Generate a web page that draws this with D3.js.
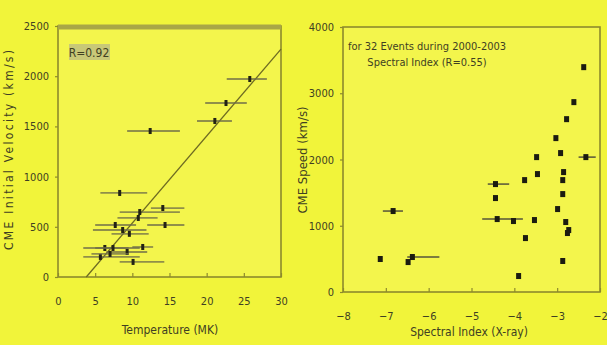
<!DOCTYPE html>
<html>
<head>
<meta charset="utf-8">
<script src="https://cdn.jsdelivr.net/npm/d3@7"></script>
<style>
  html, body { margin: 0; padding: 0; background: #f1f43a; }
  svg { display: block; }
  text { font-family: "Liberation Sans Narrow", "DejaVu Sans Condensed", "Liberation Sans", sans-serif; fill: #3f3f22; }
</style>
</head>
<body>
<div id="chart"></div>
<script>
// left panel: temperature vs initial velocity
const tempTicks = [0, 5, 10, 15, 20, 25, 30];
const velTicks = [0, 500, 1000, 1500, 2000, 2500];
// [temperature, velocity, temp low, temp high]
const tempEvents = [
  [25.8, 1972, 22.7, 28.1],
  [22.6, 1733, 19.8, 25.4],
  [21.1, 1554, 18.7, 23.4],
  [12.4, 1454, 9.3, 16.4],
  [8.3, 837, 5.7, 12.0],
  [11.0, 647, 8.3, 16.4],
  [14.1, 687, 12.5, 17.0],
  [10.8, 588, 8.0, 13.4],
  [7.7, 518, 5.0, 10.5],
  [14.4, 518, 12.0, 17.0],
  [8.7, 468, 4.7, 11.9],
  [9.6, 430, 7.2, 12.2],
  [6.3, 289, 3.4, 9.5],
  [7.4, 289, 5.0, 11.0],
  [9.3, 249, 6.5, 12.0],
  [11.4, 299, 10.0, 12.8],
  [5.7, 200, 3.4, 11.0],
  [7.0, 230, 4.5, 9.5],
  [10.1, 150, 8.3, 14.3]
];
const fitLine = [[3.8, 0], [30, 2270]];
const leftNote = "R=0.92";

// right panel: spectral index vs speed
const specTicks = [-8, -7, -6, -5, -4, -3, -2];
const speedTicks = [0, 1000, 2000, 3000, 4000];
// [spectral index, speed, index low, index high]
const specEvents = [
  [-2.38, 3394], [-2.61, 2866], [-2.78, 2609], [-3.03, 2323], [-2.92, 2097],
  [-3.48, 2036], [-2.33, 2036, -2.5, -2.1], [-3.46, 1780], [-3.76, 1689],
  [-2.85, 1810], [-2.87, 1689], [-4.44, 1629, -4.62, -4.12], [-4.44, 1418],
  [-2.87, 1478], [-2.99, 1252], [-6.83, 1222, -7.07, -6.6], [-4.4, 1101, -4.75, -3.8],
  [-4.02, 1071], [-3.53, 1086], [-2.8, 1056], [-2.73, 935], [-2.76, 890],
  [-3.74, 814], [-7.13, 498], [-6.38, 528, -6.5, -5.75], [-6.48, 452],
  [-2.87, 468], [-3.9, 241]
];
const rightNote = ["for 32 Events during 2000-2003", "Spectral Index (R=0.55)"];

const width = 607, height = 345;
const ink = "#3f3f22", frame = "#8d8a2c";
const svg = d3.select("#chart").append("svg").attr("width", width).attr("height", height);

function frameAxes(g, x, y, xTicks, yTicks, thickTop) {
  const [x0, x1] = x.range(), [y0, y1] = y.range();
  g.append("rect").attr("x", x0).attr("y", y1).attr("width", x1 - x0).attr("height", y0 - y1)
    .attr("fill", "#f3f54c").attr("stroke", frame).attr("stroke-width", 1.6);
  if (thickTop) {
    g.append("line").attr("x1", x0).attr("x2", x1).attr("y1", y1 + 1).attr("y2", y1 + 1)
      .attr("stroke", "#a9a646").attr("stroke-width", 5);
  }
  const ax = g.append("g").attr("transform", `translate(0,${y0})`)
    .call(d3.axisBottom(x).tickValues(xTicks).tickSize(-4).tickPadding(20).tickFormat(d3.format("d")));
  const ay = g.append("g").attr("transform", `translate(${x0},0)`)
    .call(d3.axisLeft(y).tickValues(yTicks).tickSize(3).tickPadding(6).tickFormat(d3.format("d")));
  [ax, ay].forEach((a) => {
    a.select(".domain").remove();
    a.selectAll(".tick line").attr("stroke", frame).attr("stroke-width", 1.2);
    a.selectAll(".tick text").attr("font-size", 11).style("fill", ink);
  });
}

// ---- left panel
const xT = d3.scaleLinear().domain([0, 30]).range([58, 281]);
const yV = d3.scaleLinear().domain([0, 2500]).range([277, 26]);
const left = svg.append("g");
frameAxes(left, xT, yV, tempTicks, velTicks, true);

left.append("path").datum(fitLine).attr("fill", "none").attr("stroke", "#6d6a22").attr("stroke-width", 1.3)
  .attr("d", d3.line().x((d) => xT(d[0])).y((d) => yV(d[1])));

const ev = left.selectAll("g.ev").data(tempEvents).join("g").attr("class", "ev");
ev.append("line").attr("x1", (d) => xT(d[2])).attr("x2", (d) => xT(d[3]))
  .attr("y1", (d) => yV(d[1])).attr("y2", (d) => yV(d[1]))
  .attr("stroke", "#6f6d48").attr("stroke-width", 1.8).attr("opacity", 0.75);
ev.append("rect").attr("x", (d) => xT(d[0]) - 1.5).attr("y", (d) => yV(d[1]) - 3)
  .attr("width", 3).attr("height", 6).attr("fill", "#222214");

left.append("rect").attr("x", 69).attr("y", 44).attr("width", 41).attr("height", 16).attr("fill", "#c8c878");
left.append("text").attr("x", 89).attr("y", 57).attr("text-anchor", "middle").attr("font-size", 12).text(leftNote);

left.append("text").attr("x", 170).attr("y", 334).attr("text-anchor", "middle").attr("font-size", 12)
  .text("Temperature (MK)");
left.append("text").attr("transform", "translate(13,150) rotate(-90)").attr("text-anchor", "middle")
  .attr("font-size", 12).attr("textLength", 200).text("CME Initial Velocity (km/s)");

// ---- right panel
const xS = d3.scaleLinear().domain([-8, -2]).range([343, 600]);
const yS = d3.scaleLinear().domain([0, 4000]).range([292, 27]);
const right = svg.append("g");
frameAxes(right, xS, yS, specTicks, speedTicks, false);

const sp = right.selectAll("g.sp").data(specEvents).join("g").attr("class", "sp");
sp.filter((d) => d.length > 2).append("line")
  .attr("x1", (d) => xS(d[2])).attr("x2", (d) => xS(d[3]))
  .attr("y1", (d) => yS(d[1])).attr("y2", (d) => yS(d[1]))
  .attr("stroke", "#55533a").attr("stroke-width", 1.5);
sp.append("rect").attr("x", (d) => xS(d[0]) - 2.5).attr("y", (d) => yS(d[1]) - 3)
  .attr("width", 5).attr("height", 6).attr("fill", "#1b1b10");

right.selectAll("text.note").data(rightNote).join("text").attr("class", "note")
  .attr("x", 427).attr("y", (d, i) => 50 + i * 16).attr("text-anchor", "middle").attr("font-size", 11)
  .text((d) => d);

right.append("text").attr("x", 469).attr("y", 336).attr("text-anchor", "middle").attr("font-size", 12)
  .text("Spectral Index (X-ray)");
right.append("text").attr("transform", "translate(307,160) rotate(-90)").attr("text-anchor", "middle")
  .attr("font-size", 13).text("CME Speed (km/s)");
</script>
</body>
</html>
